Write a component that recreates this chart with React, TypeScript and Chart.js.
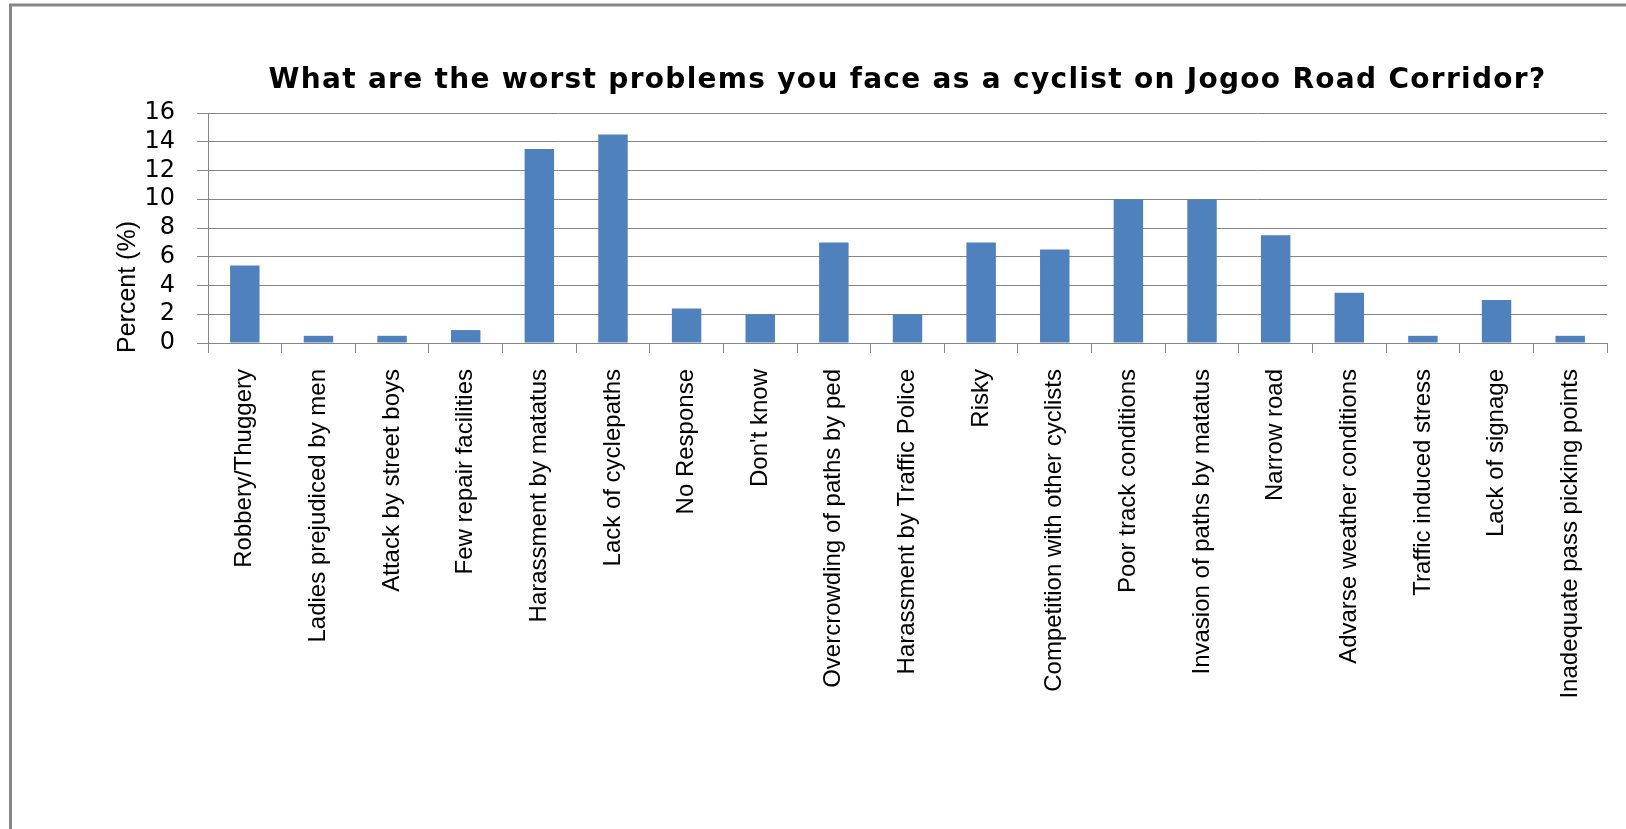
import React, { useEffect, useRef } from "react";
import { Chart, registerables } from "chart.js";

Chart.register(...registerables);

const TITLE = "What are the worst problems you face as a cyclist on Jogoo Road Corridor?";
const Y_TITLE = "Percent (%)";

const categories = [
  "Robbery/Thuggery",
  "Ladies prejudiced by men",
  "Attack by street boys",
  "Few repair facilities",
  "Harassment by matatus",
  "Lack of cyclepaths",
  "No Response",
  "Don't know",
  "Overcrowding of paths by ped",
  "Harassment by Traffic Police",
  "Risky",
  "Competition with other cyclists",
  "Poor track conditions",
  "Invasion of paths by matatus",
  "Narrow road",
  "Advarse weather conditions",
  "Traffic induced stress",
  "Lack of signage",
  "Inadequate pass picking points",
];

const percentValues = [5.4, 0.5, 0.5, 0.9, 13.5, 14.5, 2.4, 2.0, 7.0, 2.0, 7.0, 6.5, 10.0, 10.0, 7.5, 3.5, 0.5, 3.0, 0.5];

const yTicks = [0, 2, 4, 6, 8, 10, 12, 14, 16];

const SANS = "'Liberation Sans', Arial, sans-serif";
const GRID = "#868686";

const decorPlugin = {
  id: "decor",
  beforeDraw(chart: any) {
    const { ctx, width, height } = chart;
    ctx.save();
    ctx.fillStyle = "#ffffff";
    ctx.fillRect(0, 0, width, height);
    ctx.restore();
  },
  afterDraw(chart: any) {
    const { ctx, chartArea } = chart;
    ctx.save();
    // outer frame
    ctx.strokeStyle = "#878787";
    ctx.lineWidth = 3;
    ctx.beginPath();
    ctx.moveTo(10.5, 2000);
    ctx.lineTo(10.5, 5);
    ctx.lineTo(3000, 5);
    ctx.stroke();
    // title
    ctx.fillStyle = "#000000";
    ctx.font = "bold 28px 'DejaVu Sans', sans-serif";
    try {
      (ctx as any).letterSpacing = "1.3px";
    } catch (e) {}
    ctx.textAlign = "center";
    ctx.textBaseline = "alphabetic";
    ctx.fillText(TITLE, (chartArea.left + chartArea.right) / 2, 88);
    try {
      (ctx as any).letterSpacing = "0px";
    } catch (e) {}
    // y title
    ctx.translate(128, 287);
    ctx.rotate(-Math.PI / 2);
    ctx.font = "25px " + SANS;
    ctx.textBaseline = "middle";
    ctx.fillText(Y_TITLE, 0, 0);
    ctx.restore();
  },
};

export default function App() {
  const ref = useRef<HTMLCanvasElement | null>(null);
  useEffect(() => {
    if (!ref.current) return;
    const chart = new Chart(ref.current, {
      type: "bar",
      data: {
        labels: categories,
        datasets: [
          {
            data: percentValues,
            backgroundColor: "#4F81BD",
            borderWidth: 0,
            barPercentage: 0.4,
            categoryPercentage: 1.0,
          },
        ],
      },
      options: {
        responsive: false,
        devicePixelRatio: 1,
        animation: false,
        layout: { padding: { left: 0, top: 113, right: 19, bottom: 0 } },
        plugins: {
          legend: { display: false },
          title: { display: false },
          tooltip: { enabled: false },
        },
        scales: {
          x: {
            grid: {
              display: true,
              offset: true,
              drawOnChartArea: false,
              drawTicks: true,
              tickLength: 10,
              color: GRID,
              lineWidth: 1,
            },
            border: { display: true, color: GRID, width: 1 },
            ticks: {
              autoSkip: false,
              maxRotation: 90,
              minRotation: 90,
              padding: 16,
              color: "#000000",
              font: { family: SANS, size: 24 },
            },
            afterFit(scale: any) {
              scale.height = 829 - 343;
            },
          },
          y: {
            min: 0,
            max: 16,
            afterBuildTicks(scale: any) {
              scale.ticks = yTicks.map((v) => ({ value: v }));
            },
            grid: {
              color: GRID,
              lineWidth: 1,
              drawTicks: true,
              tickLength: 11,
            },
            border: { display: true, color: GRID, width: 1 },
            ticks: {
              autoSkip: false,
              stepSize: 2,
              padding: 22,
              color: "#000000",
              font: { family: "'DejaVu Sans', sans-serif", size: 24 },
            },
            afterFit(scale: any) {
              scale.width = 208;
            },
          },
        },
      },
      plugins: [decorPlugin],
    });
    return () => chart.destroy();
  }, []);
  return (
    <div style={{ position: "fixed", left: 0, top: 0, width: 1626, height: 829, background: "#fff" }}>
      <canvas ref={ref} width={1626} height={829} />
    </div>
  );
}
